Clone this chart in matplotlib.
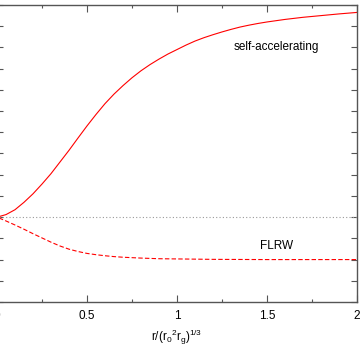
import matplotlib
matplotlib.use("Agg")
import matplotlib.pyplot as plt
from matplotlib.ticker import MultipleLocator

plt.rcParams['font.family'] = ['Liberation Sans', 'DejaVu Sans']
plt.rcParams['mathtext.fontset'] = 'custom'
plt.rcParams['mathtext.rm'] = 'Liberation Sans'

# values
x_self = [0.0, 0.05, 0.1, 0.15, 0.2, 0.25, 0.3, 0.35, 0.4, 0.45, 0.5, 0.55,
          0.6, 0.65, 0.7, 0.75, 0.8, 0.85, 0.9, 0.95, 1.0, 1.05, 1.1, 1.15,
          1.2, 1.25, 1.3, 1.35, 1.4, 1.45, 1.5, 1.6, 1.7, 1.8, 1.9, 2.0]
y_self = [0.0, 0.012, 0.035, 0.07, 0.11, 0.156, 0.205, 0.26, 0.315, 0.373, 0.43, 0.484,
          0.535, 0.58, 0.62, 0.657, 0.69, 0.719, 0.745, 0.769, 0.79, 0.811, 0.83, 0.846,
          0.86, 0.873, 0.885, 0.896, 0.905, 0.913, 0.92, 0.932, 0.942, 0.95, 0.958, 0.965]

x_flrw = [0.0, 0.05, 0.1, 0.15, 0.2, 0.25, 0.3, 0.35, 0.4, 0.45, 0.5, 0.55,
          0.6, 0.65, 0.7, 0.75, 0.8, 0.9, 1.0, 1.2, 1.5, 2.0]
y_flrw = [0.0, -0.018, -0.037, -0.057, -0.078, -0.098, -0.118, -0.136, -0.151, -0.162,
          -0.171, -0.177, -0.182, -0.186, -0.189, -0.191, -0.193, -0.196, -0.197,
          -0.199, -0.2, -0.2]

x_ref = [0.0, 2.0]
y_ref = [0.0, 0.0]

xticks = [0, 0.5, 1, 1.5, 2]
xticklabels = ['0', '0.5', '1', '1.5', '2']

fig = plt.figure(figsize=(3.61, 3.48), dpi=100)
ax = fig.add_axes([-3/361, 1 - 302/348, 360/361, 297/348])

ax.plot(x_ref, y_ref, color='#999999', lw=0.8, linestyle=(0, (1, 2)))
ax.plot(x_self, y_self, color='red', lw=0.8)
ax.plot(x_flrw, y_flrw, color='red', lw=0.8, dashes=(4, 2))

ax.text(1.55, 0.80, 'self-accelerating', fontsize=8.5, ha='center', va='center')
ax.text(1.555, -0.137, 'FLRW', fontsize=8.5, ha='center', va='center')

ax.set_xlim(0, 2)
ax.set_ylim(-0.4, 1.0)
ax.set_xticks(xticks)
ax.set_xticklabels(xticklabels)
ax.xaxis.set_minor_locator(MultipleLocator(0.25))
ax.yaxis.set_major_locator(MultipleLocator(0.1))

for s in ax.spines.values():
    s.set_color('#555555')
    s.set_linewidth(1.0)
ax.tick_params(axis='x', which='major', direction='in', length=5, width=0.8,
               color='#555555', top=True, labelsize=8.5, pad=6)
ax.tick_params(axis='x', which='minor', direction='in', length=2.5, width=0.8,
               color='#555555', top=True)
ax.tick_params(axis='y', which='major', direction='in', length=4.5, width=0.8,
               color='#555555', right=True, labelleft=False)

ax.set_xlabel(r'$\mathregular{r/(r_{0}{}^{2}r_{g})^{1/3}}$', fontsize=8.5, labelpad=4)

fig.savefig('out.png', dpi=100)
